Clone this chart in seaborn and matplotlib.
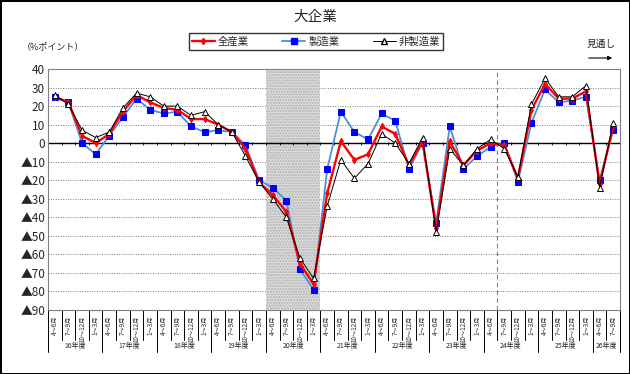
import numpy as np
import pandas as pd
import matplotlib
matplotlib.use("Agg")
import matplotlib.pyplot as plt
import matplotlib.transforms as mtransforms
from matplotlib.lines import Line2D
import seaborn as sns

# fiscal years and quarters on the x axis
years = ["16年度", "17年度", "18年度", "19年度", "20年度", "21年度",
         "22年度", "23年度", "24年度", "25年度", "26年度"]
quarters_per_year = [4, 4, 4, 4, 4, 4, 4, 4, 4, 4, 2]
quarters = ["4～6月", "7～9月", "10～12月", "1～3月"]

# BSI values (%ポイント)
all_industries = [25, 22, 4, 0, 5, 17, 26, 22, 19, 18, 13, 13, 10, 6, -3, -21,
                  -28, -37, -65, -76, -27, 1, -9, -6, 9, 5, -12, 1, -46, 1,
                  -12, -4, 0, -1, -19, 18, 32, 24, 24, 28, -22, 9]
manufacturing = [25, 22, 0, -6, 4, 14, 24, 18, 16, 17, 9, 6, 7, 6, -1, -20,
                 -24, -31, -68, -79, -14, 17, 6, 2, 16, 12, -14, 0, -43, 9,
                 -14, -7, -2, 0, -21, 11, 29, 22, 23, 25, -20, 7]
non_manufacturing = [26, 21, 7, 3, 6, 19, 27, 25, 20, 20, 15, 17, 10, 6, -7, -21,
                     -30, -40, -62, -73, -34, -9, -19, -11, 5, 0, -11, 3, -48, -3,
                     -12, -3, 2, -3, -18, 21, 35, 25, 25, 31, -24, 11]

shaded_year = "20年度"
forecast_from = ("24年度", "7～9月")

rows = []
for y, nq in zip(years, quarters_per_year):
    for q in quarters[:nq]:
        rows.append((y, q))
df = pd.DataFrame(rows, columns=["year", "quarter"])
df["pos"] = np.arange(len(df))
df["all"] = all_industries
df["mfg"] = manufacturing
df["nonmfg"] = non_manufacturing
n = len(df)

sns.set_theme(style="white")
plt.rcParams["font.family"] = ["Noto Sans CJK JP", "DejaVu Sans"]

fig, ax = plt.subplots(figsize=(6.3, 3.74), dpi=100)
fig.subplots_adjust(left=48/630, right=620/630, top=1-69/374, bottom=1-310/374)
fig.patch.set_edgecolor("black")
fig.patch.set_linewidth(2)

# recession shading and forecast marker
sel = df[df["year"] == shaded_year]["pos"]
ax.axvspan(sel.min() - 0.5, sel.max() + 0.5, facecolor="#dcdcdc",
           hatch="......", edgecolor="#b0b0b0", lw=0, zorder=1)
fpos = df[(df["year"] == forecast_from[0]) & (df["quarter"] == forecast_from[1])]["pos"].iloc[0]
ax.axvline(fpos - 0.5, color="#808080", ls=(0, (4, 3)), lw=0.8, zorder=1.5)
ax.axhline(0, color="black", lw=1.0, zorder=2)
ax.vlines(np.arange(0.5, n - 1), -0.8, 0.8, color="black", lw=0.6, zorder=2)

sns.lineplot(data=df, x="pos", y="mfg", ax=ax, color="#4f8fd8", lw=1.3,
             marker="s", markersize=4.5, markerfacecolor="#0000ff",
             markeredgecolor="#0000ff", zorder=3)
sns.lineplot(data=df, x="pos", y="all", ax=ax, color="#ff0000", lw=1.7,
             marker="d", markersize=3.2, markerfacecolor="#ff0000",
             markeredgecolor="#ff0000", zorder=4)
sns.lineplot(data=df, x="pos", y="nonmfg", ax=ax, color="black", lw=0.7,
             marker="^", markersize=5, markerfacecolor="white",
             markeredgecolor="black", markeredgewidth=0.7, zorder=5)

ax.set_xlim(-0.5, n - 0.5)
ax.set_ylim(-90, 40)
yt = list(range(-90, 41, 10))
ax.set_yticks(yt)
ax.set_yticklabels([f"▲{abs(v)}" if v < 0 else str(v) for v in yt], fontsize=8.5)
ax.yaxis.grid(True, ls=(0, (1, 1.5)), color="#7a7a7a", lw=0.7)
ax.xaxis.grid(False)
ax.set_xticks(df["pos"])
ax.set_xticklabels(df["quarter"], rotation=90, fontsize=4.5)
ax.tick_params(axis="both", length=0, pad=2)
ax.tick_params(axis="x", pad=4)
ax.set_xlabel("")
ax.set_ylabel("")
for s in ax.spines.values():
    s.set_color("#808080")
    s.set_linewidth(0.8)

# quarter / year separators under the axis
trans = mtransforms.blended_transform_factory(ax.transData, ax.transAxes)
starts = np.cumsum([0] + quarters_per_year)
for b in range(n + 1):
    depth = -0.175 if b in starts else -0.125
    ax.plot([b - 0.5, b - 0.5], [0, depth], transform=trans, clip_on=False,
            color="black", lw=0.7)
for y, s0, nq in zip(years, starts[:-1], quarters_per_year):
    ax.text(s0 + nq / 2 - 0.5, -0.15, y, transform=trans, ha="center",
            va="center", fontsize=5)

fig.text(0.5, 1 - 17/374, "大企業", ha="center", va="center", fontsize=10.5)
fig.text(22/630, 1 - 47/374, "（%ポイント）", ha="left", va="center", fontsize=6.5)
fig.text(601/630, 1 - 44/374, "見通し", ha="center", va="center", fontsize=7)
ax.annotate("", xy=(615/630, 1 - 58/374), xytext=(586/630, 1 - 58/374),
            xycoords="figure fraction", textcoords="figure fraction",
            arrowprops=dict(arrowstyle="-|>", color="black", lw=0.8,
                            mutation_scale=6))

handles = [
    Line2D([], [], color="#ff0000", lw=1.7, marker="d", markersize=3.2),
    Line2D([], [], color="#4f8fd8", lw=1.3, marker="s", markersize=4.5,
           markerfacecolor="#0000ff", markeredgecolor="#0000ff"),
    Line2D([], [], color="black", lw=0.7, marker="^", markersize=5,
           markerfacecolor="white", markeredgecolor="black"),
]
leg = fig.legend(handles, ["全産業", "製造業", "非製造業"], loc="center",
                 bbox_to_anchor=(316/630, 1 - 41.5/374), ncol=3, frameon=True,
                 fancybox=False, edgecolor="black", fontsize=7.5,
                 handlelength=2.2, columnspacing=3.2, borderpad=0.3,
                 handletextpad=0.3, borderaxespad=0)
leg.get_frame().set_linewidth(1.0)

fig.savefig("out.png", dpi=100)
